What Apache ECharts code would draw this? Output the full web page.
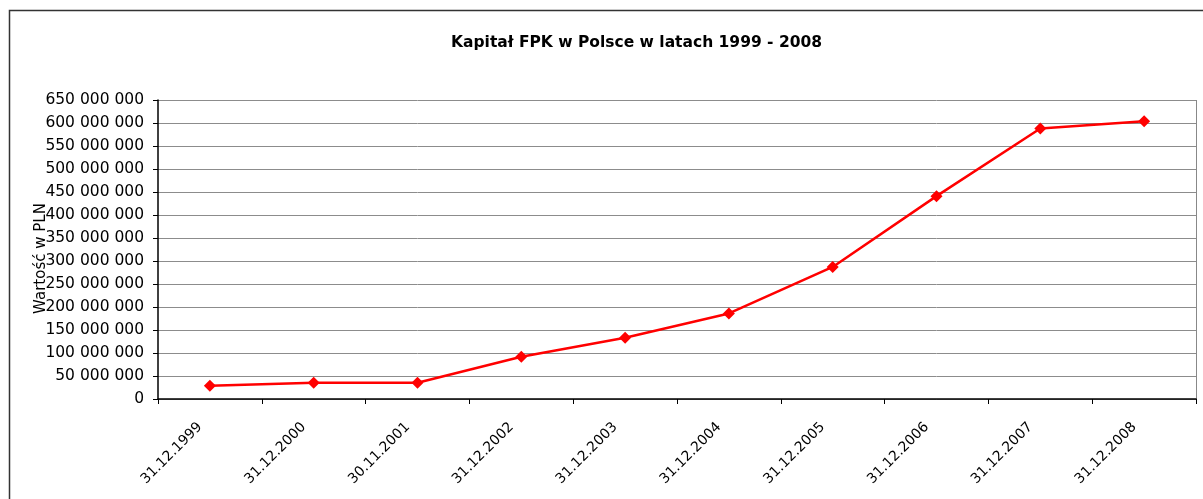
<!DOCTYPE html>
<html>
<head>
<meta charset="utf-8">
<script src="https://cdn.jsdelivr.net/npm/echarts@6/dist/echarts.min.js"></script>
<style>
  html, body { margin: 0; padding: 0; background: #fff; }
  #main { width: 1203px; height: 499px; }
</style>
</head>
<body>
<div id="main"></div>
<script>
var dates = ['31.12.1999', '31.12.2000', '30.11.2001', '31.12.2002', '31.12.2003',
    '31.12.2004', '31.12.2005', '31.12.2006', '31.12.2007', '31.12.2008']
var kapital = [29000000, 35500000, 35500000, 92000000, 133000000,
    186000000, 287000000, 441000000, 588000000, 604000000]

var font = 'Verdana, "DejaVu Sans", sans-serif'

function fmt(v) {
    return String(v).replace(/\B(?=(\d{3})+(?!\d))/g, ' ')
}

var myChart = echarts.init(document.getElementById('main'))

var option = {
    animation: false,
    textStyle: { fontFamily: font },
    title: {
        text: 'Kapitał FPK w Polsce w latach 1999 - 2008',
        left: 446,
        top: 30,
        textStyle: { fontFamily: font, fontSize: 15.5, fontWeight: 'bold', color: '#000' }
    },
    graphic: [{
        type: 'rect',
        shape: { x: 9.5, y: 10.5, width: 1210, height: 510 },
        style: { fill: 'none', stroke: '#333', lineWidth: 1.5 },
        silent: true
    }, {
        type: 'line',
        shape: { x1: 1196.5, y1: 100, x2: 1196.5, y2: 400 },
        style: { stroke: '#888', lineWidth: 1 },
        silent: true
    }],
    grid: { left: 158, top: 100, right: 7, bottom: 100 },
    xAxis: {
        type: 'category',
        data: dates,
        boundaryGap: true,
        axisLine: { lineStyle: { color: '#000', width: 1.5 } },
        axisTick: { show: true, alignWithLabel: false, length: 5, lineStyle: { color: '#000' } },
        axisLabel: { rotate: 45, color: '#000', fontSize: 14, fontFamily: font, margin: 16, padding: [0, 14, 0, 0], interval: 0 },
        splitLine: { show: false }
    },
    yAxis: {
        type: 'value',
        min: 0,
        max: 650000000,
        interval: 50000000,
        name: 'Wartość w PLN',
        nameLocation: 'middle',
        nameGap: 109,
        nameMoveOverlap: false,
        nameTextStyle: { color: '#000', fontSize: 15, fontFamily: font, padding: [0, 18, 0, 0] },
        axisLine: { show: true, lineStyle: { color: '#000', width: 1.5 } },
        axisTick: { show: true, length: 5, lineStyle: { color: '#000' } },
        axisLabel: { color: '#000', fontSize: 15.5, fontFamily: font, margin: 14, formatter: fmt },
        splitLine: { show: true, lineStyle: { color: '#8c8c8c', width: 1 } }
    },
    series: [{
        name: 'Kapitał',
        type: 'line',
        data: kapital,
        symbol: 'diamond',
        symbolSize: 12,
        itemStyle: { color: '#ff0000' },
        lineStyle: { color: '#ff0000', width: 2.5 }
    }]
}

myChart.setOption(option)
</script>
</body>
</html>
